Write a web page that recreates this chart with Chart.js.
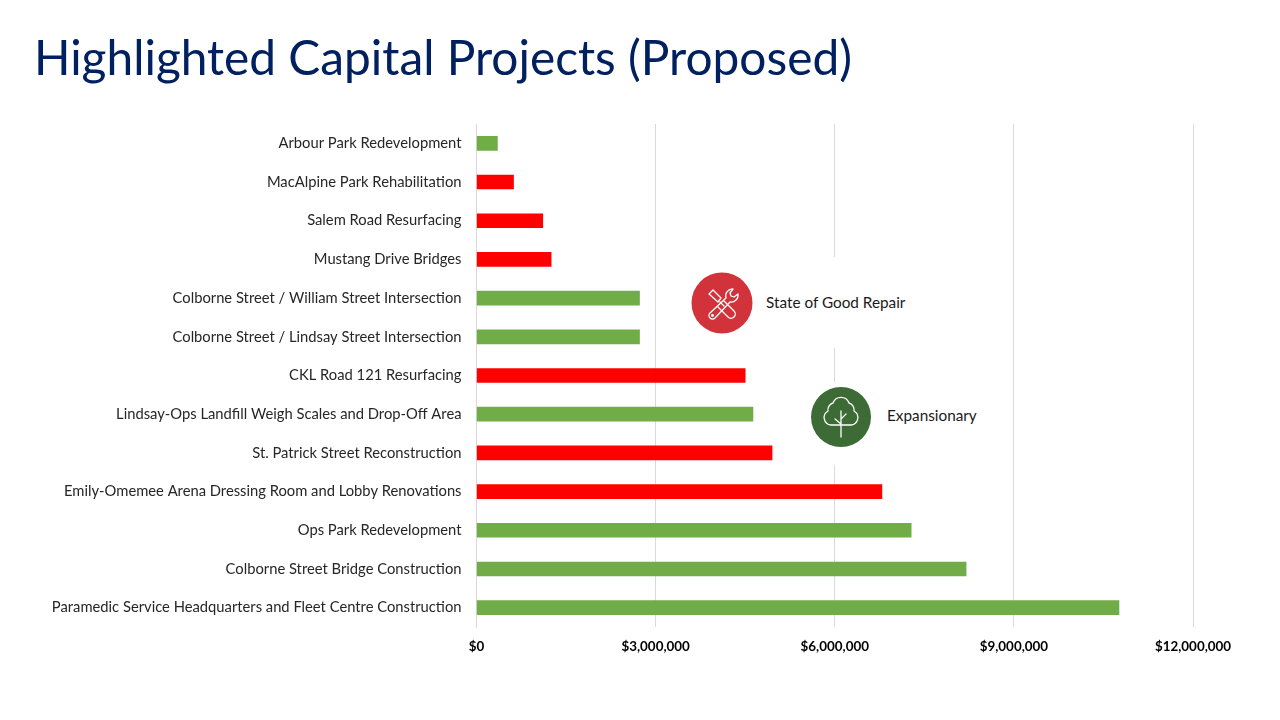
<!DOCTYPE html>
<html>
<head>
<meta charset="utf-8">
<title>Highlighted Capital Projects (Proposed)</title>
<script src="https://cdn.jsdelivr.net/npm/chart.js@4"></script>
<style>
  html, body { margin: 0; padding: 0; background: #fff; }
  #pagina { position: relative; width: 1280px; height: 720px; overflow: hidden; font-family: Lato, sans-serif; }
  #grafico { position: absolute; left: 0; top: 0; }
  h1 { position: absolute; left: 34px; top: 26px; margin: 0; font-size: 47.8px; line-height: 62px; font-weight: 400; color: #002060; white-space: nowrap; }
  .legenda { position: absolute; background: #fff; }
  .legenda svg { position: absolute; }
  .legenda span { position: absolute; font-size: 15.3px; line-height: 20px; color: #1a1a1a; white-space: nowrap; }
</style>
</head>
<body>
<div id="pagina">
  <canvas id="grafico" width="1280" height="720"></canvas>
  <h1>Highlighted Capital Projects (Proposed)</h1>

  <div class="legenda" style="left:688px;top:257px;width:225px;height:91px">
    <svg style="left:3px;top:15px" width="62" height="62" viewBox="0 0 62 62">
      <circle cx="31" cy="31" r="30.5" fill="#d2323a"/>
      <g fill="none" stroke="#fff" stroke-width="1.3" stroke-linejoin="round" stroke-linecap="round">
        <path d="M18 22l4-4 8 8-3 4zM29 30l4 4M33 29l10 10a4 4 0 0 1-6 6l-10-10"/>
        <path d="M42 17a7 7 0 0 0-7 9L19 41a3.5 3.5 0 0 0 5 5l15-16a7 7 0 0 0 8-8l-4 3-3-1-1-3z"/>
        <circle cx="21.5" cy="43.5" r="0.8"/>
      </g>
    </svg>
    <span style="left:78px;top:35px">State of Good Repair</span>
  </div>

  <div class="legenda" style="left:808px;top:382px;width:175px;height:83px">
    <svg style="left:3px;top:5px" width="60" height="60" viewBox="0 0 60 60">
      <circle cx="30" cy="30" r="30" fill="#3d6b35"/>
      <g fill="none" stroke="#fff" stroke-width="1.3" stroke-linejoin="round" stroke-linecap="round">
        <path d="M20 38h20a7.5 7.5 0 0 0 3-14 7 7 0 0 0-5-8 8.5 8.5 0 0 0-16 0 7 7 0 0 0-5 8 7.5 7.5 0 0 0 3 14z"/>
        <path d="M30 50V24M30 37l-6-5M30 32l5-5"/>
      </g>
    </svg>
    <span style="left:79px;top:23px">Expansionary</span>
  </div>
</div>

<script>
const projetos = [
  "Arbour Park Redevelopment",
  "MacAlpine Park Rehabilitation",
  "Salem Road Resurfacing",
  "Mustang Drive Bridges",
  "Colborne Street / William Street Intersection",
  "Colborne Street / Lindsay Street Intersection",
  "CKL Road 121 Resurfacing",
  "Lindsay-Ops Landfill Weigh Scales and Drop-Off Area",
  "St. Patrick Street Reconstruction",
  "Emily-Omemee Arena Dressing Room and Lobby Renovations",
  "Ops Park Redevelopment",
  "Colborne Street Bridge Construction",
  "Paramedic Service Headquarters and Fleet Centre Construction"
];
const valores = [350000, 620000, 1110000, 1250000, 2730000, 2730000, 4500000, 4630000, 4950000, 6790000, 7280000, 8200000, 10760000];
const tipos = ["exp", "rep", "rep", "rep", "exp", "exp", "rep", "exp", "rep", "rep", "exp", "exp", "exp"];
const ticksEixo = [0, 3000000, 6000000, 9000000, 12000000];

const cores = { exp: "#70ad47", rep: "#ff0000" };

new Chart(document.getElementById("grafico").getContext("2d"), {
  type: "bar",
  data: {
    labels: projetos,
    datasets: [{
      data: valores,
      backgroundColor: tipos.map(t => cores[t]),
      barThickness: 14
    }]
  },
  options: {
    indexAxis: "y",
    responsive: false,
    animation: false,
    layout: { padding: { top: 124, right: 87, left: 0, bottom: 0 } },
    plugins: { legend: { display: false }, tooltip: { enabled: false } },
    scales: {
      x: {
        min: 0,
        max: 12000000,
        afterFit: s => { s.height = 93; },
        afterBuildTicks: s => { s.ticks = ticksEixo.map(v => ({ value: v })); },
        grid: { color: "#d9d9d9", lineWidth: 1, drawTicks: false },
        border: { display: false },
        ticks: {
          padding: 12,
          maxRotation: 0,
          color: "#000",
          font: { family: "Lato", size: 13.4, weight: "bold" },
          callback: v => "$" + v.toLocaleString("en-US")
        }
      },
      y: {
        afterFit: s => { s.width = 476.5; },
        grid: { display: false },
        border: { color: "#d9d9d9", width: 1 },
        ticks: {
          padding: 7,
          autoSkip: false,
          color: "#262626",
          font: { family: "Lato", size: 14.75 }
        }
      }
    }
  }
});
</script>
</body>
</html>
